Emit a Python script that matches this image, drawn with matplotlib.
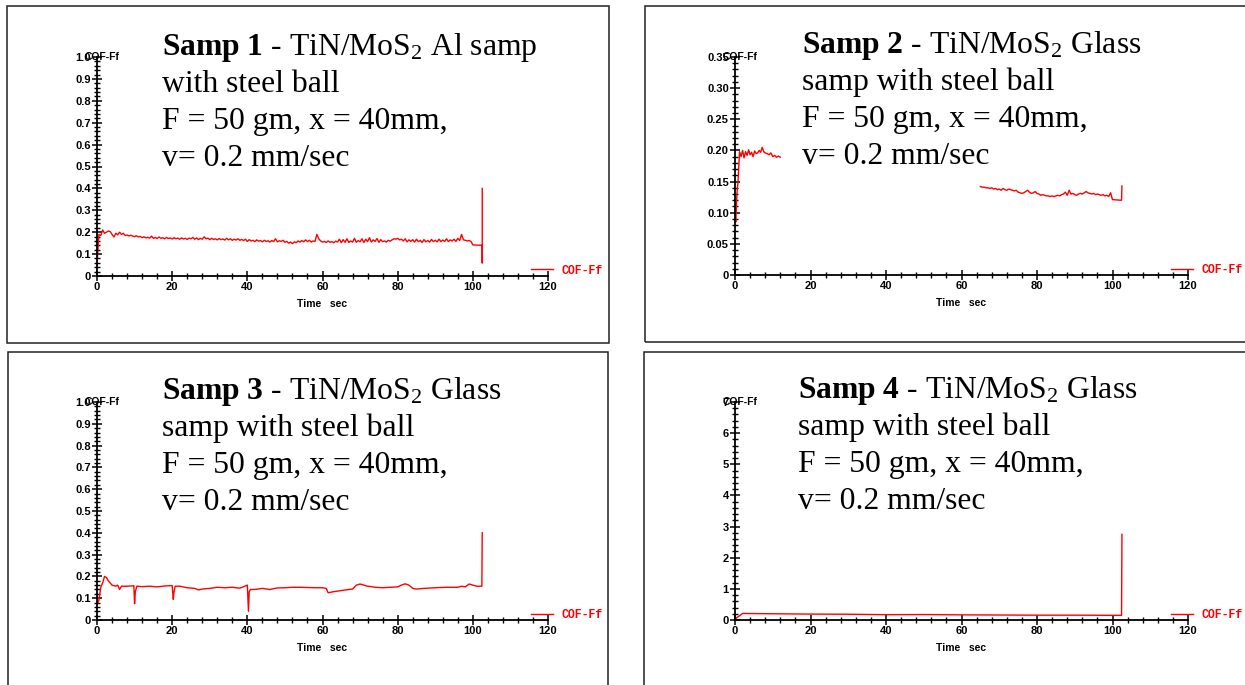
import numpy as np
import matplotlib
matplotlib.use("Agg")
import matplotlib.pyplot as plt
from matplotlib.ticker import AutoMinorLocator, FixedLocator
from matplotlib.patches import Rectangle
from matplotlib.lines import Line2D

plt.rcParams['mathtext.fontset'] = 'custom'
plt.rcParams['mathtext.rm'] = 'Liberation Serif'
plt.rcParams['mathtext.bf'] = 'Liberation Serif:bold'
plt.rcParams['mathtext.it'] = 'Liberation Serif:italic'

# ---------------- data ----------------
# Panel 1 (0.5 s sampling from 0 to 99.5 s, then tail)
t1_main = np.arange(0, 100, 0.5)
cof1_main = [
    0.050, 0.190, 0.185, 0.210, 0.195, 0.200, 0.205, 0.203, 0.190, 0.178, 0.195, 0.188, 0.200, 0.190, 0.195, 0.185, 0.187, 0.183, 0.186, 0.182,
    0.180, 0.184, 0.178, 0.181, 0.175, 0.179, 0.174, 0.177, 0.173, 0.182, 0.172, 0.176, 0.171, 0.178, 0.172, 0.175, 0.170, 0.176, 0.171, 0.174,
    0.169, 0.175, 0.170, 0.173, 0.168, 0.174, 0.169, 0.172, 0.167, 0.173, 0.170, 0.176, 0.168, 0.174, 0.166, 0.172, 0.168, 0.179, 0.170, 0.173,
    0.166, 0.172, 0.167, 0.170, 0.165, 0.171, 0.166, 0.169, 0.164, 0.172, 0.165, 0.170, 0.163, 0.168, 0.164, 0.170, 0.163, 0.167, 0.162, 0.168,
    0.158, 0.166, 0.160, 0.163, 0.157, 0.165, 0.159, 0.162, 0.156, 0.163, 0.158, 0.161, 0.155, 0.162, 0.157, 0.170, 0.156, 0.161, 0.158, 0.163,
    0.154, 0.158, 0.150, 0.155, 0.148, 0.156, 0.152, 0.160, 0.155, 0.162, 0.156, 0.165, 0.157, 0.163, 0.155, 0.160, 0.158, 0.190, 0.170, 0.160,
    0.155, 0.158, 0.153, 0.160, 0.154, 0.157, 0.152, 0.159, 0.155, 0.168, 0.152, 0.166, 0.154, 0.170, 0.153, 0.160, 0.155, 0.172, 0.154, 0.162,
    0.156, 0.170, 0.153, 0.168, 0.157, 0.175, 0.155, 0.165, 0.158, 0.171, 0.154, 0.166, 0.157, 0.160, 0.155, 0.163, 0.159, 0.165, 0.170, 0.168,
    0.172, 0.165, 0.168, 0.160, 0.170, 0.156, 0.165, 0.158, 0.166, 0.155, 0.168, 0.157, 0.163, 0.153, 0.166, 0.156, 0.162, 0.155, 0.167, 0.157,
    0.163, 0.156, 0.168, 0.157, 0.164, 0.158, 0.170, 0.157, 0.165, 0.160, 0.168, 0.158, 0.172, 0.162, 0.190, 0.165, 0.163, 0.160, 0.162, 0.158,
]
t1_tail = [100.0, 102.4, 102.5, 102.5, 102.5]
cof1_tail = [0.142, 0.140, 0.140, 0.060, 0.400]

# Panel 2 (two recorded segments with a gap)
t2_a = [0, 0.2, 0.5, 0.8, 1.2, 1.6, 2.0, 2.4, 2.8, 3.2, 3.6, 4.0, 4.4, 4.8, 5.2, 5.6, 6.0, 6.4, 6.8, 7.2,
        7.6, 8.0, 8.5, 9.0, 9.5, 10.0, 10.5, 11.0, 11.5, 12.0]
cof2_a = [0.100, 0.085, 0.130, 0.150, 0.198, 0.190, 0.200, 0.188, 0.198, 0.192, 0.201, 0.193, 0.197, 0.190, 0.199, 0.195, 0.196, 0.200, 0.197, 0.205,
          0.198, 0.196, 0.195, 0.193, 0.196, 0.190, 0.192, 0.189, 0.191, 0.189]
t2_b_main = np.arange(65, 100, 0.5)
cof2_b_main = [
    0.142, 0.141, 0.141, 0.140, 0.140, 0.139, 0.140, 0.138, 0.139, 0.137, 0.138, 0.136, 0.139, 0.137, 0.136, 0.138, 0.137, 0.136, 0.135, 0.136,
    0.133, 0.132, 0.131, 0.132, 0.134, 0.136, 0.133, 0.131, 0.132, 0.134, 0.131, 0.130, 0.128, 0.129, 0.128, 0.127, 0.127, 0.126, 0.127, 0.126,
    0.127, 0.128, 0.127, 0.129, 0.130, 0.133, 0.128, 0.136, 0.130, 0.131, 0.129, 0.128, 0.130, 0.131, 0.130, 0.132, 0.134, 0.132, 0.131, 0.130,
    0.131, 0.129, 0.130, 0.129, 0.128, 0.129, 0.127, 0.128, 0.126, 0.132,
]
t2_b_tail = [100.0, 102.4, 102.5]
cof2_b_tail = [0.121, 0.120, 0.143]

# Panel 3
t3 = [0, 0.5, 1.0, 1.5, 2.0, 2.5, 3.0, 3.5, 4.0, 5.0, 5.5, 6.0, 6.5, 8.0, 9.8, 10.0, 10.2, 10.6, 12, 14, 16, 18,
      20.0, 20.3, 20.5, 20.8, 22, 24, 26, 27, 28, 30, 32, 34, 36, 38, 40.0, 40.3, 40.5, 40.8, 42, 44, 46, 48, 50,
      52, 54, 56, 58, 60, 61.0, 61.5, 63, 65, 67, 68, 69, 70, 71, 72, 73, 74, 76, 78, 80, 81, 82, 83, 84, 85,
      87, 90, 93, 96, 97, 98, 99, 100, 101, 102.4, 102.5]
cof3 = [0.070, 0.090, 0.150, 0.170, 0.200, 0.195, 0.180, 0.170, 0.160, 0.155, 0.160, 0.140, 0.155, 0.155, 0.157, 0.075, 0.130, 0.155,
        0.153, 0.155, 0.152, 0.156, 0.158, 0.095, 0.130, 0.155, 0.155, 0.148, 0.145, 0.138, 0.142, 0.145, 0.150, 0.148, 0.150, 0.146,
        0.160, 0.040, 0.130, 0.140, 0.140, 0.145, 0.140, 0.147, 0.148, 0.150, 0.150, 0.149, 0.148, 0.148, 0.145, 0.125, 0.130, 0.135,
        0.140, 0.142, 0.160, 0.165, 0.160, 0.155, 0.153, 0.150, 0.148, 0.150, 0.152, 0.160, 0.166, 0.160, 0.145, 0.142, 0.145, 0.148,
        0.150, 0.150, 0.155, 0.152, 0.165, 0.160, 0.155, 0.155, 0.400]

# Panel 4
t4 = [0, 0.5, 1.0, 2.0, 10, 20, 30, 40, 50, 60, 70, 80, 90, 100, 102.4, 102.5]
cof4 = [0.00, 0.08, 0.12, 0.21, 0.20, 0.19, 0.185, 0.17, 0.175, 0.165, 0.16, 0.155, 0.155, 0.15, 0.15, 2.75]

y_ticks_1 = [0, 0.1, 0.2, 0.3, 0.4, 0.5, 0.6, 0.7, 0.8, 0.9, 1.0]
y_labels_1 = ["0", "0.1", "0.2", "0.3", "0.4", "0.5", "0.6", "0.7", "0.8", "0.9", "1.0"]
y_ticks_2 = [0, 0.05, 0.10, 0.15, 0.20, 0.25, 0.30, 0.35]
y_labels_2 = ["0", "0.05", "0.10", "0.15", "0.20", "0.25", "0.30", "0.35"]
y_ticks_4 = [0, 1, 2, 3, 4, 5, 6, 7]
y_labels_4 = ["0", "1", "2", "3", "4", "5", "6", "7"]
x_ticks = [0, 20, 40, 60, 80, 100, 120]
x_labels = ["0", "20", "40", "60", "80", "100", "120"]

titles = [
    (r"$\mathbf{Samp\ 1}$ - TiN/MoS$_2$ Al samp", "with steel ball"),
    (r"$\mathbf{Samp\ 2}$ - TiN/MoS$_2$ Glass", "samp with steel ball"),
    (r"$\mathbf{Samp\ 3}$ - TiN/MoS$_2$ Glass", "samp with steel ball"),
    (r"$\mathbf{Samp\ 4}$ - TiN/MoS$_2$ Glass", "samp with steel ball"),
]
line3 = "F = 50 gm, x = 40mm,"
line4 = "v= 0.2 mm/sec"

# ---------------- figure ----------------
W, H = 1245, 685
fig = plt.figure(figsize=(W / 100, H / 100), dpi=100)

def fx(px):
    return px / W

def fy(py):
    return 1 - py / H

# panel boxes (pixel coords: left, top, right, bottom)
boxes = [(7, 6, 609, 343), (645, 6, 1252, 342), (8, 352, 608, 692), (644, 352, 1252, 692)]
for (l, t, r, b) in boxes:
    fig.add_artist(Rectangle((fx(l), fy(b)), fx(r) - fx(l), fy(t) - fy(b),
                             transform=fig.transFigure, fill=False, edgecolor='#222222', lw=1.1))

# axes rectangles (pixel coords: left, top, right, bottom)
axes_px = [(97, 57, 548, 276), (735, 57, 1188, 275), (97, 402, 548, 620), (735, 402, 1188, 620)]
ylims = [1.0, 0.35, 1.0, 7.0]
yticks = [(y_ticks_1, y_labels_1), (y_ticks_2, y_labels_2), (y_ticks_1, y_labels_1), (y_ticks_4, y_labels_4)]
series = [
    (np.concatenate([t1_main, t1_tail]), np.concatenate([cof1_main, cof1_tail])),
    (np.concatenate([t2_a, [np.nan], t2_b_main, t2_b_tail]),
     np.concatenate([cof2_a, [np.nan], cof2_b_main, cof2_b_tail])),
    (np.array(t3), np.array(cof3)),
    (np.array(t4), np.array(cof4)),
]
text_x = [162, 802, 162, 798]
text_base = [55, 53, 399, 398]
sans = 'Liberation Sans'

for i in range(4):
    l, t, r, b = axes_px[i]
    ax = fig.add_axes([fx(l), fy(b), fx(r) - fx(l), fy(t) - fy(b)])
    x, y = series[i]
    ax.plot(x, y, color='#ff0000', lw=1.0, label='COF-Ff')
    ax.set_xlim(0, 120)
    ax.set_ylim(0, ylims[i])
    for s in ['top', 'right']:
        ax.spines[s].set_visible(False)
    for s in ['left', 'bottom']:
        ax.spines[s].set_linewidth(1.3)
    ax.xaxis.set_major_locator(FixedLocator(x_ticks))
    ax.set_xticklabels(x_labels)
    ax.set_yticks(yticks[i][0])
    ax.set_yticklabels(yticks[i][1])
    ax.xaxis.set_minor_locator(AutoMinorLocator(5))
    ax.yaxis.set_minor_locator(AutoMinorLocator(5))
    ax.tick_params(which='major', direction='inout', length=7, width=1.1, pad=1,
                   labelsize=8, colors='black')
    ax.tick_params(which='minor', direction='inout', length=5, width=1.0)
    for lab in ax.get_xticklabels() + ax.get_yticklabels():
        lab.set_fontfamily(sans)
        lab.set_fontweight('bold')
    ax.patch.set_visible(False)
    # axis labels
    ax.text(-0.027, 1.0, 'COF-Ff', transform=ax.transAxes, ha='left', va='center',
            fontsize=7.5, fontweight='bold', family=sans)
    ax.text(0.5, -0.128, 'Time   sec', transform=ax.transAxes, ha='center', va='center',
            fontsize=7.5, fontweight='bold', family=sans)
    # legend
    handle = Line2D([], [], color='#ff0000', lw=1.0)
    leg = ax.legend([handle], ['COF-Ff'], loc='center left',
                    bbox_to_anchor=(0.962, 0.025), frameon=False, handlelength=1.9,
                    handletextpad=0.8, borderpad=0, borderaxespad=0,
                    prop={'family': 'Liberation Mono', 'weight': 'bold', 'size': 8.3})
    for txt in leg.get_texts():
        txt.set_color('#ff0000')
    leg.set_clip_on(False)

    # annotation text block
    tx = text_x[i]
    base = text_base[i]
    lines = [titles[i][0], titles[i][1], line3, line4]
    for k, s in enumerate(lines):
        fig.text(fx(tx), fy(base + 37 * k), s, ha='left', va='baseline',
                 fontsize=22.8, family='Liberation Serif', color='black')

fig.savefig('out.png', dpi=100)
